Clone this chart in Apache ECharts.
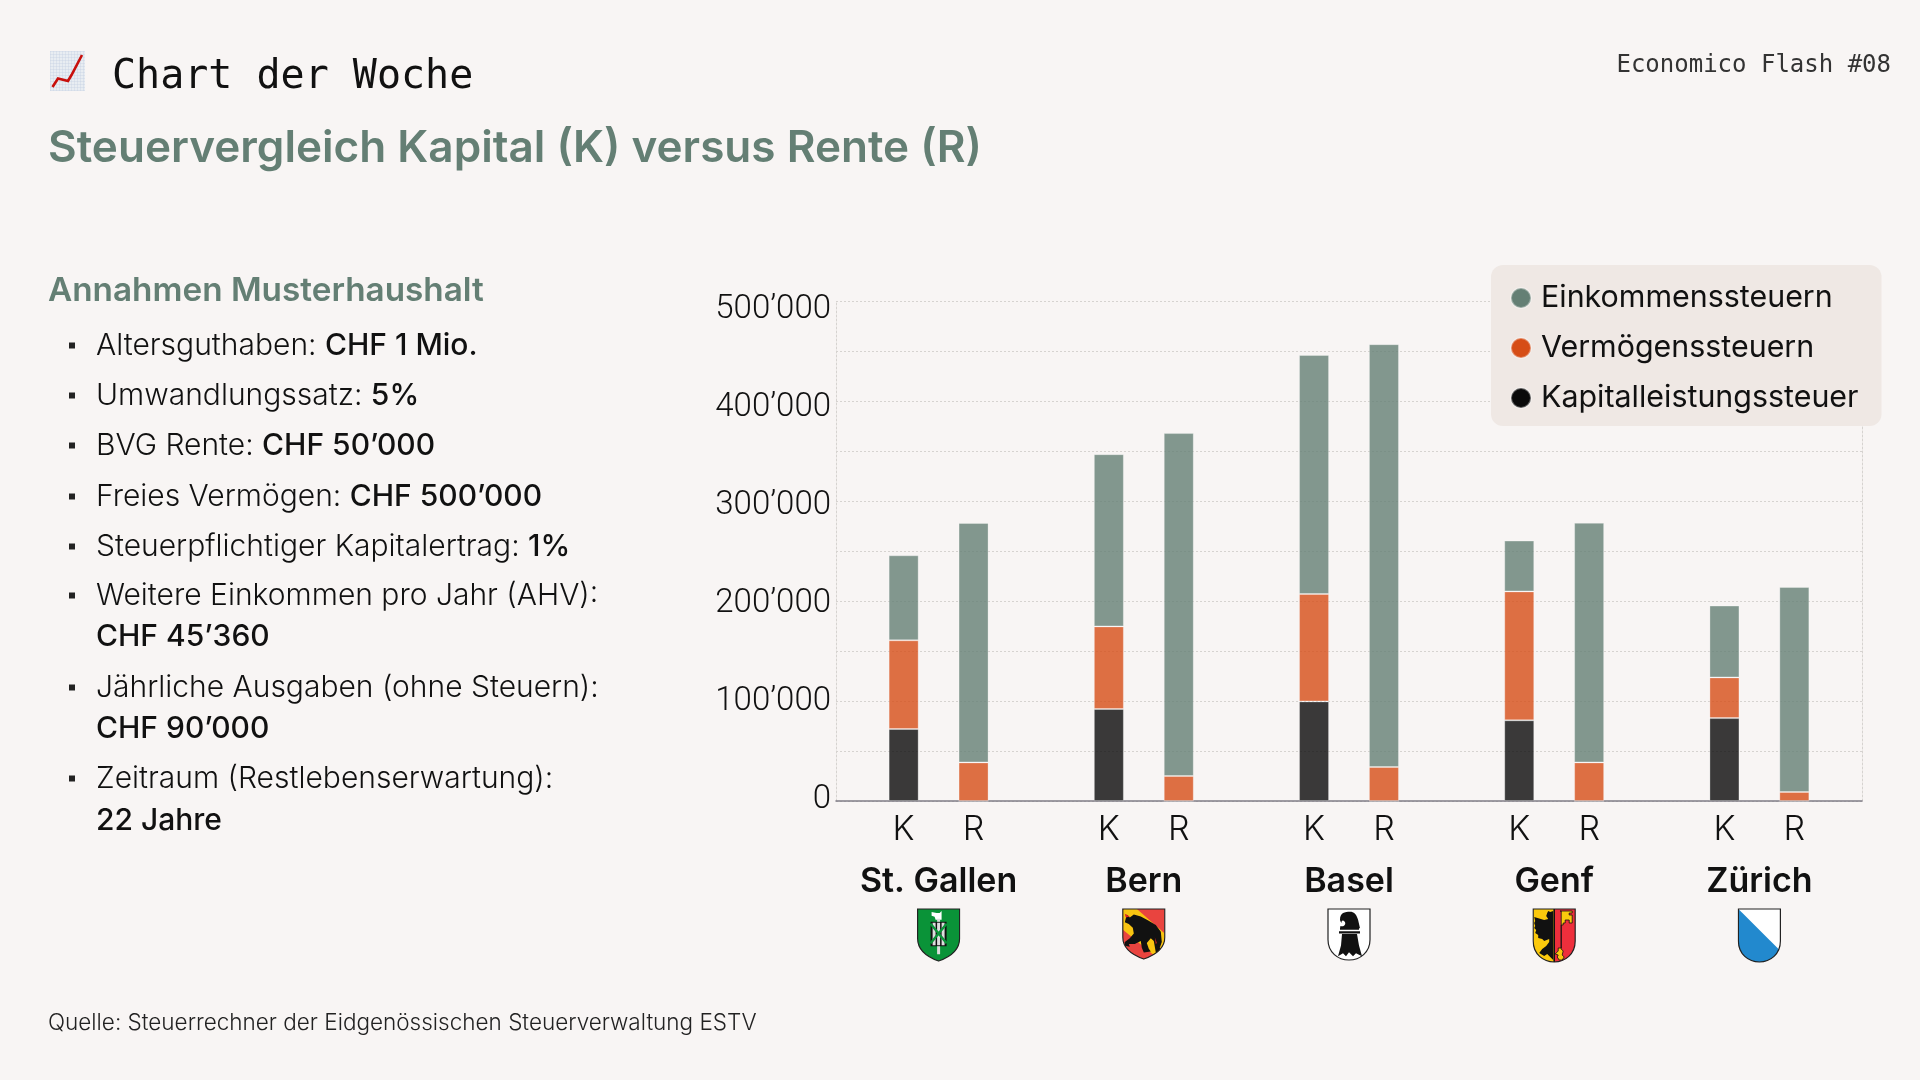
<!DOCTYPE html>
<html><head><meta charset="utf-8">
<style>html,body{margin:0;padding:0;background:#F8F5F4}#c{width:1920px;height:1080px}</style>
<script src="https://cdn.jsdelivr.net/npm/echarts@6/dist/echarts.min.js"></script>
</head><body><div id="c"></div>
<script>
const cities=['St. Gallen','Bern','Basel','Genf','Zürich'];
const yTicks=[0,100000,200000,300000,400000,500000];
const kapitalK=[72000,92000,99600,80700,82900];
const vermoegenK=[88700,82600,107400,128900,40700];
const einkommenK=[85000,172200,239000,50800,71800];
const kapitalR=[0,0,0,0,0];
const vermoegenR=[38600,25000,34000,38600,9000];
const einkommenR=[239400,342900,422800,239600,205000];
const legendNames=['Einkommenssteuern','Vermögenssteuern','Kapitalleistungssteuer'];
const colGreen='#647F74',colOrange='#D64D16',colBlack='#0A0A0A';
const bodyFont='"Inter"';
const POINTED='M1 1H43V31C43 43 33 50 22 54C11 50 1 43 1 31Z';
const ROUND='M1 1H43V33C43 46 33 54 22 54C11 54 1 46 1 33Z';
const shield=(inner,outline)=>'<svg xmlns="http://www.w3.org/2000/svg" width="44" height="55" viewBox="0 0 44 55"><defs><clipPath id="s"><path d="'+outline+'"/></clipPath></defs><g clip-path="url(#s)">'+inner+'</g><path d="'+outline+'" fill="none" stroke="#222" stroke-width="1.2"/></svg>';
const crests=[
 shield('<rect width="44" height="55" fill="#0A9338"/><path d="M15 4l5 1h3l2-2v9h-6l-1-3-3-1z" fill="#fff"/><path d="M14 14h16v25H14z" fill="#111"/><path d="M16 15h3v23h-3zM20.500 15h3v23h-3zM25 15h3v23h-3z" fill="#ddd"/><path d="M14 16L30 36M30 16L14 36" stroke="#0A9338" stroke-width="2.400"/><path d="M20.500 11h3v3h-3zM20.500 39h3v8h-3z" fill="#ddd"/>',POINTED),
 shield('<rect width="44" height="55" fill="#E9443F"/><path d="M0 3L3 0H14L44 28V46L38 55L0 22Z" fill="#F8C411"/><path d="M5 7l3 3 4-3 7 2 7 4 8 5 5 7 1 11-2 6 2 4-6 1-1-6-1-6-3-3-4 5 2 6 2 3-7 1-2-5-1-7-6 3-6 0 1 3-5-1 0-4 5-4 4-5-1-6-4-4-4-2z" fill="#111"/><path d="M3 6l5 3-4 1z" fill="#D22"/><path d="M33 31l2 6-1 1z" fill="#D22"/>',POINTED),
 shield('<rect width="44" height="55" fill="#fff"/><path d="M13 12C13 5 18 4 23 4c4 0 6 2 8 8l2 9H14l-1-2c1 0 2 0 3 0 3-1 3-5 0-6-1 0-2 1-1 2 1 1-2 0-2-3z" fill="#111"/><path d="M13 20h19v2.500H13zM12 24h21v2.500H12z" fill="#111"/><path d="M15 27h15l2 12 3 11-6-3-3 3-4-4-3 4-3-3-5 3 3-11z" fill="#111"/>',ROUND),
 shield('<rect width="22" height="55" fill="#FBC90D"/><rect x="22" width="22" height="55" fill="#EE2F3C"/><path d="M21 3l-3 1-2-1-1 2-1 3 2 3-4 1-10-3 1 4-1 2 1 3-1 2 2 2-1 3 3 2 0 3 4 1 2 2 5-2 0 3-3 4-4 3-3 4 5 3 3-2 3 3 3 3z" fill="#111"/><path d="M28 3h12v2h-3v2h3v8h-3v-3h-4v3h-2v2h-2v24l2 2-1 4 2 2-2 3h-3l-2-3 1-2-3-1 3-3v-3h3V3z" fill="#FBC90D" stroke="#111" stroke-width=".8"/><rect x="21.200" width="1.600" height="55" fill="#111"/>',ROUND),
 shield('<rect width="44" height="55" fill="#fff"/><path d="M0 0L44 44V55H0Z" fill="#2289CE"/>',ROUND)
];
const crestHeights=[54,52,53,55,55];
const emoji='<svg xmlns="http://www.w3.org/2000/svg" width="35" height="40" viewBox="0 0 35 40"><defs><pattern id="g" width="3" height="3" patternUnits="userSpaceOnUse"><rect width="3" height="3" fill="#E8EDF2"/><path d="M3 0H0V3" fill="none" stroke="#BCCADB" stroke-width=".6"/></pattern></defs><rect width="35" height="40" fill="url(#g)"/><path d="M2.500 36L8 27.500 18 30 21.500 24 32 4" fill="none" stroke="#C8100C" stroke-width="2.600"/></svg>';
const uri=s=>'data:image/svg+xml;charset=utf-8,'+encodeURIComponent(s);
const fmtNum=v=>String(v).replace(/\B(?=(\d{3})+$)/g,'’');
const labelShift={0:[0,0,3,0],100000:[1,0,0,0],200000:[5,0,0,0],300000:[9,0,0,0],400000:[13,0,0,0],500000:[17,0,0,0]};
const rich={};yTicks.forEach(v=>rich['t'+v]={fontFamily:'Roboto',fontWeight:300,fontSize:33,color:'#111',padding:labelShift[v]});
const mk=(name,data,stack,color)=>({type:'bar',name,data,stack,barWidth:30,barGap:'133%',itemStyle:{color,opacity:.8,borderColor:'rgba(255,255,255,.35)',borderWidth:1}});
const chart=echarts.init(document.getElementById('c'),null,{renderer:'canvas',width:1920,height:1080});
const listRows=[
 [345.5,'Altersguthaben: ','CHF 1 Mio.',true],[395.5,'Umwandlungssatz: ','5%',true],[445.5,'BVG Rente: ','CHF 50’000',true],
 [496.5,'Freies Vermögen: ','CHF 500’000',true],[546.5,'Steuerpflichtiger Kapitalertrag: ','1%',true],
 [595.5,'Weitere Einkommen pro Jahr (AHV):','',true],[636.5,'','CHF 45’360',false],
 [687.5,'Jährliche Ausgaben (ohne Steuern):','',true],[728.5,'','CHF 90’000',false],
 [778.5,'Zeitraum (Restlebenserwartung):','',true],[820.5,'','22 Jahre',false]];
const textEl=(x,y,text,font,color,align)=>({type:'text',x,y,style:{text,font,fill:color,textAlign:align||'left',textVerticalAlign:'middle'}});
const graphic=[
 {type:'image',x:50,y:51,style:{image:uri(emoji),width:35,height:40}},
 textEl(112,78,'Chart der Woche','40px "DejaVu Sans Mono"','#111'),
 textEl(1891,65.5,'Economico Flash #08','24px "DejaVu Sans Mono"','#333','right'),
 textEl(48,148.5,'Steuervergleich Kapital (K) versus Rente (R)','600 44.1px '+bodyFont,colGreen),
 textEl(48,291,'Annahmen Musterhaushalt','600 33.3px '+bodyFont,colGreen),
 textEl(48,1023,'Quelle: Steuerrechner der Eidgenössischen Steuerverwaltung ESTV','300 22.5px '+bodyFont,'#222')
];
listRows.forEach(r=>{
 if(r[3])graphic.push({type:'rect',shape:{x:69,y:r[0]-3,width:6,height:6},style:{fill:'#222'}});
 graphic.push({type:'text',x:96,y:r[0],style:{text:(r[1]?'{n|'+r[1]+'}':'')+(r[2]?'{b|'+r[2]+'}':''),textVerticalAlign:'middle',rich:{n:{font:'300 30px '+bodyFont,fill:'#111',color:'#111'},b:{font:'500 30px '+bodyFont,fill:'#111',color:'#111'}}}});
});
chart.setOption({
 backgroundColor:'#F8F5F4',animation:false,
 textStyle:{fontFamily:bodyFont},
 grid:{left:836,top:301,width:1026,height:500,containLabel:false},
 legend:{data:legendNames,orient:'vertical',left:1491,top:265,backgroundColor:'#EFE8E4',borderRadius:12,padding:[18,23,13,19],itemGap:20,icon:'circle',itemWidth:20,itemHeight:20,selectedMode:false,itemStyle:{opacity:1},
  textStyle:{fontFamily:bodyFont,fontSize:30.4,color:'#111',padding:[0,0,0,5]}},
 xAxis:{type:'category',data:cities,axisTick:{show:false},axisLine:{lineStyle:{color:'#7F7C85',width:1.5}},
  axisLabel:{interval:0,margin:3,color:'#111',lineHeight:52,
   formatter:c=>'{kr|K}{kr|R}\n{city|'+c+'}',
   rich:{kr:{width:70,align:'center',fontFamily:bodyFont,fontWeight:300,fontSize:34,color:'#111',lineHeight:52},city:{fontFamily:bodyFont,fontWeight:600,fontSize:34,color:'#111',lineHeight:52}}}},
 yAxis:[
  {type:'value',min:0,max:500000,interval:50000,
   axisLine:{show:true,lineStyle:{color:'#D6D3D0',type:[2,2],width:1}},axisTick:{show:false},
   splitLine:{lineStyle:{color:'#D6D3D0',type:[2,2],width:1}},
   axisLabel:{margin:5,formatter:v=>yTicks.includes(v)?'{t'+v+'|'+fmtNum(v)+'}':'',rich}},
  {type:'value',min:0,max:500000,interval:50000,position:'right',axisLine:{show:true,lineStyle:{color:'#D6D3D0',type:[2,2],width:1}},axisTick:{show:false},splitLine:{show:false},axisLabel:{show:false}}
 ],
 series:[
  mk(legendNames[2],kapitalK,'K',colBlack),mk(legendNames[1],vermoegenK,'K',colOrange),mk(legendNames[0],einkommenK,'K',colGreen),
  mk(legendNames[2],kapitalR,'R',colBlack),mk(legendNames[1],vermoegenR,'R',colOrange),mk(legendNames[0],einkommenR,'R',colGreen)
 ],
 graphic
});
const crestGraphics=cities.map((c,i)=>({type:'image',x:chart.convertToPixel({xAxisIndex:0},c)-22,y:908,z:5,style:{image:uri(crests[i]),width:44,height:crestHeights[i]}}));
chart.setOption({graphic:graphic.concat(crestGraphics)});
</script></body></html>
